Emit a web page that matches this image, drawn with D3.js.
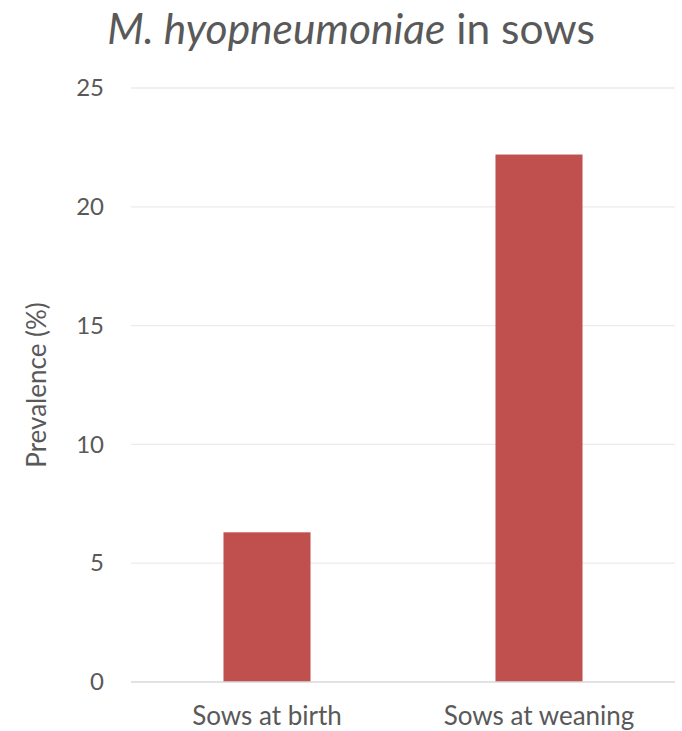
<!DOCTYPE html>
<html>
<head>
<meta charset="utf-8">
<script src="https://cdn.jsdelivr.net/npm/d3@7"></script>
<style>
  html, body { margin: 0; padding: 0; background: #fff; }
  svg { display: block; }
  text { font-family: Lato, "Open Sans", sans-serif; fill: #595959; }
</style>
</head>
<body>
<svg id="chart" width="682" height="731"></svg>
<script>
// Prevalence of M. hyopneumoniae by sow stage
const categories = ["Sows at birth", "Sows at weaning"];
const prevalence = [6.3, 22.2];
const yTicks = [0, 5, 10, 15, 20, 25];
const yLabel = "Prevalence (%)";

const W = 682, H = 731;
const margin = { top: 88, right: 7, bottom: 49, left: 131 };

const svg = d3.select("#chart");

const x = d3.scaleBand()
  .domain(categories)
  .range([margin.left, W - margin.right])
  .paddingInner(0.68)
  .paddingOuter(0.34);

const y = d3.scaleLinear()
  .domain([0, 25])
  .range([H - margin.bottom, margin.top]);

// horizontal gridlines
svg.append("g")
  .selectAll("line")
  .data(yTicks.filter(d => d !== 0))
  .join("line")
  .attr("x1", margin.left)
  .attr("x2", W - margin.right)
  .attr("y1", d => y(d))
  .attr("y2", d => y(d))
  .attr("stroke", "#ebebeb")
  .attr("stroke-width", 1.3);

// bars
svg.append("g")
  .selectAll("rect")
  .data(categories)
  .join("rect")
  .attr("x", d => x(d))
  .attr("width", x.bandwidth())
  .attr("y", (d, i) => y(prevalence[i]))
  .attr("height", (d, i) => y(0) - y(prevalence[i]))
  .attr("fill", "#c0504d");

// baseline
svg.append("line")
  .attr("x1", margin.left)
  .attr("x2", W - margin.right)
  .attr("y1", y(0))
  .attr("y2", y(0))
  .attr("stroke", "#d9d9d9")
  .attr("stroke-width", 1.5);

// y axis tick labels
const yAxis = d3.axisLeft(y).tickValues(yTicks).tickSize(0).tickPadding(27);
const gy = svg.append("g")
  .attr("transform", `translate(${margin.left},0)`)
  .call(yAxis);
gy.select(".domain").remove();
gy.selectAll("text")
  .style("font-family", "Lato, 'Open Sans', sans-serif")
  .style("font-size", "24px")
  .attr("fill", "#595959");

// x axis category labels
const xAxis = d3.axisBottom(x).tickSize(0).tickPadding(0);
const gx = svg.append("g")
  .attr("transform", `translate(0,${y(0)})`)
  .call(xAxis);
gx.select(".domain").remove();
gx.selectAll("text")
  .attr("dy", null)
  .attr("y", 43)
  .style("font-family", "Lato, 'Open Sans', sans-serif")
  .style("font-size", "26px")
  .attr("fill", "#595959");

// y axis title
svg.append("text")
  .attr("transform", `translate(46,${(y(0) + y(25)) / 2}) rotate(-90)`)
  .attr("text-anchor", "middle")
  .style("font-size", "26px")
  .text(yLabel);

// chart title with italic genus name
const title = svg.append("text")
  .attr("x", W / 2 + 10)
  .attr("y", 44)
  .attr("text-anchor", "middle")
  .style("font-size", "42.5px");
title.append("tspan").style("font-style", "italic").text("M. hyopneumoniae");
title.append("tspan").text(" in sows");
</script>
</body>
</html>
